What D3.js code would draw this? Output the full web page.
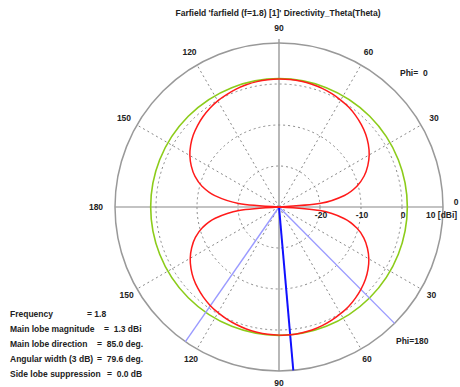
<!DOCTYPE html>
<html><head><meta charset="utf-8">
<script src="https://cdn.jsdelivr.net/npm/d3@7"></script>
<style>
html,body{margin:0;padding:0;background:#fff;}
svg text{font-family:"Liberation Sans",Arial,sans-serif;font-weight:bold;font-size:8.5px;fill:#222;white-space:pre;}
</style></head>
<body><svg id="c" width="460" height="387"></svg>
<script>
// ---- data ----
const thetas = [0,5,10,15,20,25,30,35,40,45,50,55,60,65,70,75,80,85,90,95,100,105,110,115,120,125,130,135,140,145,150,155,160,165,170,175,180];
// Phi = 0 (upper half), directivity in dBi
const phi0dB = [-30,-19.8,-13.8,-10.3,-7.9,-6.1,-4.6,-3.4,-2.4,-1.6,-0.9,-0.3,0.1,0.5,0.8,1.0,1.15,1.2,1.2,1.15,1.05,0.85,0.6,0.25,-0.1,-0.6,-1.2,-1.9,-2.7,-3.7,-4.9,-6.4,-8.2,-10.6,-14.1,-20.1,-30];
// Phi = 180 (lower half)
const phi180dB = [-30,-19.9,-13.9,-10.4,-8.0,-6.2,-4.7,-3.5,-2.5,-1.7,-1.0,-0.4,0.05,0.45,0.8,1.05,1.2,1.3,1.25,1.15,1.0,0.8,0.5,0.15,-0.25,-0.7,-1.3,-2.0,-2.8,-3.8,-5.0,-6.5,-8.3,-10.7,-14.2,-20.2,-30];
const dbTicks = [-20,-10,0,10];
const angleTicks = [30,60,90,120,150];
const mainLobeMag = 1.3;
const mainLobeDir = 85;
const beamEdges = [45.2,124.8];
const title = "Farfield 'farfield (f=1.8) [1]' Directivity_Theta(Theta)";
const infoLabels = ["Frequency","Main lobe magnitude","Main lobe direction","Angular width (3 dB)","Side lobe suppression"];
const infoValues = ["= 1.8","=  1.3 dBi","=  85.0 deg.","=  79.6 deg.","=  0.0 dB"];

// ---- layout ----
const cx = 279, cy = 207, R = 164;
const svg = d3.select("#c");
const r = d3.scaleLinear().domain([-30,10]).range([0,R]).clamp(true);
const rad = d => d*Math.PI/180;
const g = svg.append("g").attr("transform",`translate(${cx},${cy})`);

// dotted grid circles
g.selectAll(".gc").data(dbTicks.filter(d=>d<10)).join("circle")
  .attr("r",d=>r(d)).attr("fill","none").attr("stroke","#888")
  .attr("stroke-width",1).attr("stroke-dasharray","2,3");
// dotted radial lines
const spokes = [];
angleTicks.filter(a=>a!==90).forEach(a=>{spokes.push([a,-1]);spokes.push([a,1]);});
g.selectAll(".sp").data(spokes).join("line")
  .attr("x1",0).attr("y1",0)
  .attr("x2",d=>R*Math.cos(rad(d[0])))
  .attr("y2",d=>d[1]*R*Math.sin(rad(d[0])))
  .attr("stroke","#888").attr("stroke-width",1).attr("stroke-dasharray","2,3");
// solid axes
g.append("line").attr("x1",-R).attr("x2",R).attr("y1",0).attr("y2",0).attr("stroke","#888").attr("stroke-width",1.2);
g.append("line").attr("x1",0).attr("x2",0).attr("y1",-R-4).attr("y2",R).attr("stroke","#888").attr("stroke-width",1.2);
// outer circle
g.append("circle").attr("r",r(10)).attr("fill","none").attr("stroke","#999").attr("stroke-width",1.5);
// green max circle
g.append("circle").attr("r",r(mainLobeMag)).attr("fill","none").attr("stroke","#8ccc1a").attr("stroke-width",1.6);

// blue lines (lower half = phi 180)
g.selectAll(".bw").data(beamEdges).join("line")
  .attr("x1",0).attr("y1",0)
  .attr("x2",d=>R*Math.cos(rad(d))).attr("y2",d=>R*Math.sin(rad(d)))
  .attr("stroke","#9a9aff").attr("stroke-width",1.4);
g.append("line").attr("x1",0).attr("y1",0)
  .attr("x2",R*Math.cos(rad(mainLobeDir))).attr("y2",R*Math.sin(rad(mainLobeDir)))
  .attr("stroke","#1010ff").attr("stroke-width",2);

// red curves
const upper = d3.lineRadial().angle(d=>Math.PI/2-rad(d[0])).radius(d=>r(d[1])).curve(d3.curveCardinal);
const lower = d3.lineRadial().angle(d=>Math.PI/2+rad(d[0])).radius(d=>r(d[1])).curve(d3.curveCardinal);
g.append("path").attr("d",upper(thetas.map((t,i)=>[t,phi0dB[i]]))).attr("fill","none").attr("stroke","#ff1a1a").attr("stroke-width",1.5);
g.append("path").attr("d",lower(thetas.map((t,i)=>[t,phi180dB[i]]))).attr("fill","none").attr("stroke","#ff1a1a").attr("stroke-width",1.5);

// dB tick labels
g.selectAll(".dbl").data(dbTicks).join("text")
  .attr("x",d=>d===10?r(d)-17:r(d)+1).attr("y",11)
  .attr("text-anchor",d=>d===10?"start":"middle")
  .text(d=>d===10?"10 [dBi]":d);

// angle labels
g.selectAll(".au").data(angleTicks).join("text")
  .attr("x",d=>179*Math.cos(rad(d))).attr("y",d=>-179*Math.sin(rad(d)))
  .attr("text-anchor","middle").attr("dominant-baseline","central").text(d=>d);
g.selectAll(".al").data(angleTicks).join("text")
  .attr("x",d=>176*Math.cos(rad(d))).attr("y",d=>176*Math.sin(rad(d)))
  .attr("text-anchor","middle").attr("dominant-baseline","central").text(d=>d);
g.append("text").attr("x",-183).attr("y",0).attr("text-anchor","middle").attr("dominant-baseline","central").text(180);
g.append("text").attr("x",177).attr("y",-5).attr("text-anchor","middle").attr("dominant-baseline","central").text(0);

// phi labels
svg.append("text").attr("x",400).attr("y",76).text("Phi=  0");
svg.append("text").attr("x",396).attr("y",344).text("Phi=180");

// title
svg.append("text").attr("x",278).attr("y",16).attr("text-anchor","middle").text(title);

// info block
const eqX = [87,104,97,97,107];
infoLabels.forEach((l,i)=>{
  svg.append("text").attr("x",10).attr("y",317+i*15).text(l);
  svg.append("text").attr("x",eqX[i]).attr("y",317+i*15).text(infoValues[i]);
});
</script></body></html>
